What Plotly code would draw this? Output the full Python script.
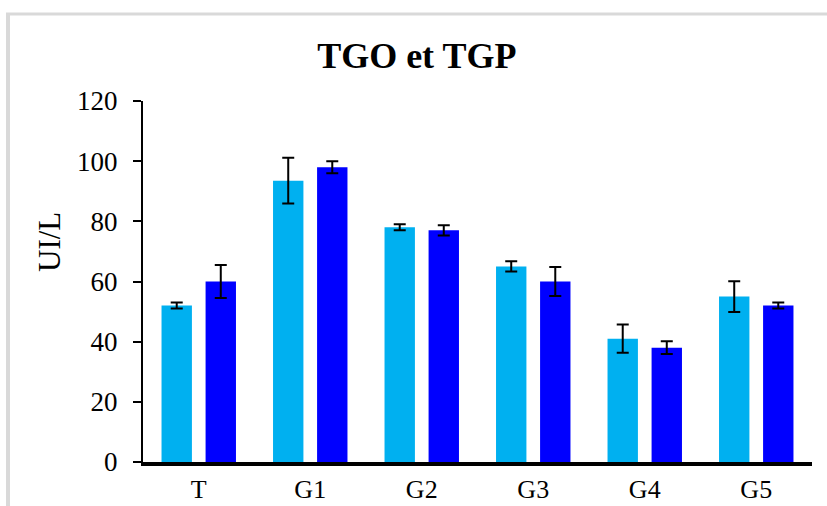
import plotly.graph_objects as go

categories = ["T", "G1", "G2", "G3", "G4", "G5"]
tgo_values = [52, 93.5, 78, 65, 41, 55]
tgo_errors = [1, 7.6, 1, 1.7, 4.7, 5.1]
tgp_values = [60, 98, 77, 60, 38, 52]
tgp_errors = [5.5, 2, 1.7, 4.8, 2.1, 1]
y_ticks = [0, 20, 40, 60, 80, 100, 120]

W, H = 827, 506
ml, mr, mt, mb = 143, 15, 101, 44
pw, ph = W - ml - mr, H - mt - mb

def px_x(p):
    return (p - ml) / pw

def px_y(p):
    return (H - mb - p) / ph

font_family = "Liberation Serif, Times New Roman, serif"

fig = go.Figure()
fig.add_trace(go.Bar(
    x=categories, y=tgo_values, name="TGO",
    marker=dict(color="#00B0F0", line=dict(width=0)),
    error_y=dict(type="data", array=tgo_errors, visible=True,
                 color="black", thickness=2, width=6),
))
fig.add_trace(go.Bar(
    x=categories, y=tgp_values, name="TGP",
    marker=dict(color="#0000FF", line=dict(width=0)),
    error_y=dict(type="data", array=tgp_errors, visible=True,
                 color="black", thickness=2, width=6),
))

fig.update_layout(
    width=W, height=H,
    margin=dict(l=ml, r=mr, t=mt, b=mb, pad=0, autoexpand=False),
    paper_bgcolor="white", plot_bgcolor="white",
    barmode="group", bargap=0.21, bargroupgap=0.31,
    showlegend=False,
    font=dict(family=font_family, color="black"),
    title=dict(text="<b>TGO et TGP</b>", font=dict(size=36, family=font_family, color="black"),
               x=0.504, xref="container", xanchor="center",
               y=1 - 55 / H, yref="container", yanchor="middle"),
    xaxis=dict(
        automargin=False,
        showline=True, linecolor="black", linewidth=3.5,
        ticks="", showgrid=False, zeroline=False,
        tickfont=dict(size=26, family=font_family, color="black"),
        ticklabelstandoff=1,
    ),
    yaxis=dict(
        automargin=False,
        range=[0, 120], tickvals=y_ticks, ticktext=[str(v) for v in y_ticks],
        showline=True, linecolor="black", linewidth=2,
        ticks="outside", ticklen=8, tickwidth=2, tickcolor="black",
        showgrid=False, zeroline=False,
        tickfont=dict(size=27, family=font_family, color="black"),
        ticklabelstandoff=10,
    ),
    annotations=[
        dict(text="UI/L", textangle=-90, showarrow=False,
             xref="paper", yref="paper", x=px_x(49), y=px_y(242),
             xanchor="center", yanchor="middle",
             font=dict(size=31, family=font_family, color="black")),
    ],
    shapes=[
        dict(type="line", xref="paper", yref="paper",
             x0=px_x(6), x1=px_x(827), y0=px_y(14), y1=px_y(14),
             line=dict(color="#D9D9D9", width=3)),
        dict(type="line", xref="paper", yref="paper",
             x0=px_x(8), x1=px_x(8), y0=px_y(13), y1=px_y(506),
             line=dict(color="#D9D9D9", width=4)),
    ],
)

fig.write_html("out.html")
